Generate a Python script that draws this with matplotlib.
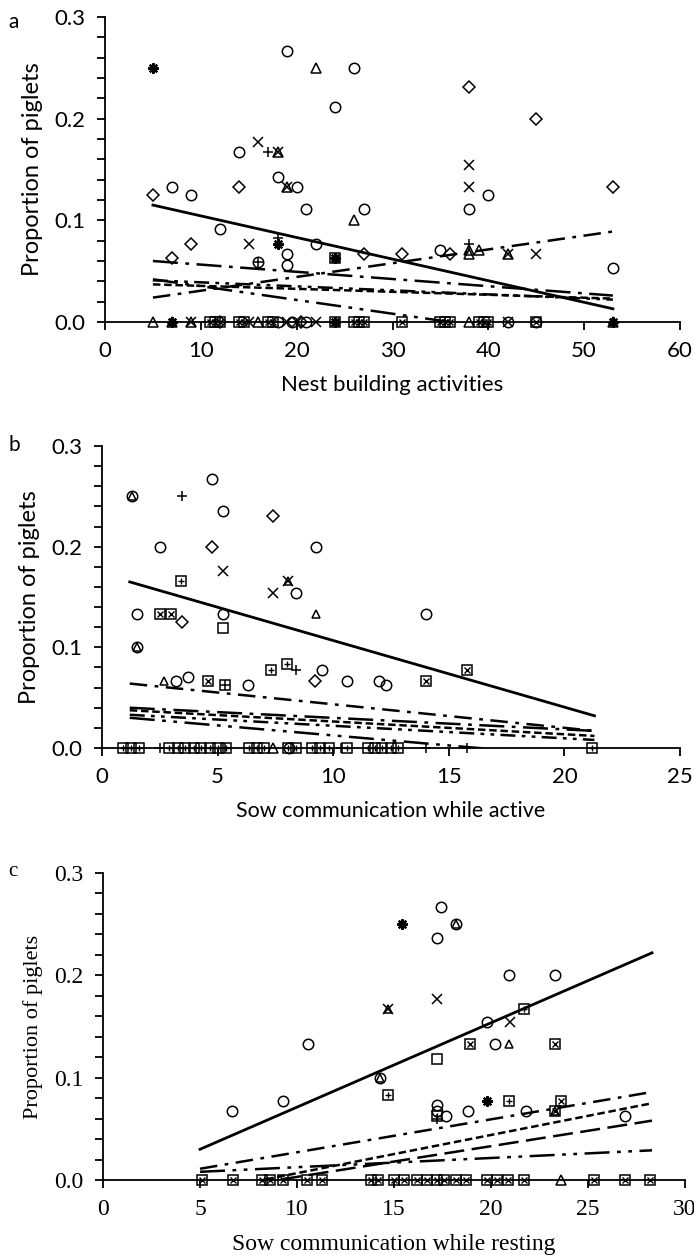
import matplotlib
matplotlib.use("Agg")
import matplotlib.pyplot as plt
from matplotlib.ticker import MultipleLocator

# ---------- panel a : nest building activities
A_CIRCLE_X = [7, 9, 12, 14, 18, 16, 19, 19, 19, 20, 21, 22, 24, 26, 27, 35, 38, 40, 53]
A_CIRCLE_Y = [0.133, 0.125, 0.091, 0.167, 0.143, 0.059, 0.067, 0.056, 0.267, 0.133,
              0.111, 0.077, 0.211, 0.25, 0.111, 0.071, 0.111, 0.125, 0.053]
A_DIAMOND_X = [5, 7, 9, 14, 27, 31, 36, 38, 45, 53]
A_DIAMOND_Y = [0.125, 0.063, 0.077, 0.133, 0.067, 0.067, 0.067, 0.231, 0.2, 0.133]
A_TRI_X = [18, 19, 22, 26, 38, 38, 39, 42]
A_TRI_Y = [0.167, 0.133, 0.25, 0.1, 0.067, 0.071, 0.071, 0.067]
A_CROSS_X = [15, 16, 18, 19, 38, 38, 42, 45]
A_CROSS_Y = [0.077, 0.177, 0.167, 0.133, 0.154, 0.133, 0.067, 0.067]
A_PLUS_X = [17, 18, 16, 38]
A_PLUS_Y = [0.167, 0.083, 0.059, 0.077]
A_STAR_X = [5, 18, 24]
A_STAR_Y = [0.25, 0.077, 0.063]
A_BOXX_X = [24]
A_BOXX_Y = [0.063]
# sows with no piglets (proportion 0)
A_ZERO_TRI = [5, 7, 9, 16, 38, 53]
A_ZERO_STAR = [7, 24, 53]
A_ZERO_CROSS = [9, 15, 19, 20, 22, 42]
A_ZERO_SQUARE = [11, 11.5, 12, 14, 14.5, 17, 17.5, 24, 26, 26.5, 27, 31, 35, 35.5, 36,
                 39, 39.5, 40, 45]
A_ZERO_CIRCLE = [18, 19.5, 21, 42, 45]
A_ZERO_DIAMOND = [12, 20.5]
# regression lines (x start, x end / y start, y end)
A_LINE_X = [5, 53]
A_LINES_Y = [(0.115, 0.013), (0.024, 0.089), (0.060, 0.026), (0.037, 0.023),
             (0.041, 0.022), (0.042, -0.023)]

# ---------- panel b : sow communication while active
B_CIRCLE_X = [4.76, 5.24, 2.5, 9.24, 8.37, 1.5, 5.24, 14.0, 3.2, 3.7, 6.3, 9.5, 10.6,
              12.0, 12.3, 1.3, 1.5]
B_CIRCLE_Y = [0.267, 0.235, 0.2, 0.2, 0.154, 0.133, 0.133, 0.133, 0.067, 0.071, 0.063,
              0.077, 0.067, 0.067, 0.063, 0.25, 0.1]
B_DIAMOND_X = [7.38, 4.76, 3.48, 9.2]
B_DIAMOND_Y = [0.23, 0.2, 0.125, 0.067]
B_TRI_X = [1.3, 8.06, 9.24, 2.7, 1.5]
B_TRI_Y = [0.25, 0.166, 0.133, 0.067, 0.1]
B_CROSS_X = [5.24, 7.38, 8.06]
B_CROSS_Y = [0.176, 0.154, 0.166]
B_PLUS_X = [3.48, 8.4, 5.3]
B_PLUS_Y = [0.25, 0.077, 0.063]
B_BOXP_X = [3.43, 7.3, 8.0]
B_BOXP_Y = [0.166, 0.077, 0.083]
B_BOXX_X = [2.5, 3.0, 4.6, 14.0, 15.8]
B_BOXX_Y = [0.133, 0.133, 0.067, 0.067, 0.077]
B_SQUARE_X = [5.24, 5.3]
B_SQUARE_Y = [0.119, 0.063]
B_ZERO_BOXP = [0.9, 1.25, 1.6, 2.9, 3.3, 3.6, 4.0, 4.3, 4.65, 5.0, 5.35, 6.35, 6.7, 7.0,
               8.05, 8.4, 9.1, 9.45, 9.8, 10.6, 11.5, 11.8, 12.1, 12.5, 12.8, 21.2]
B_ZERO_TRI = [7.4]
B_ZERO_CIRCLE = [8.1]
B_ZERO_PLUS = [2.5, 5.3, 10.35, 14.0, 15.8]
B_LINE_X = [1.2, 21.3]
B_LINES_Y = [(0.165, 0.032), (0.064, 0.017), (0.040, 0.017), (0.0375, 0.012),
             (0.033, 0.008), (0.030, -0.010)]

# ---------- panel c : sow communication while resting
C_CIRCLE_X = [6.66, 9.3, 10.55, 14.3, 17.4, 18.2, 17.2, 17.2, 17.2, 17.7, 18.8, 19.8,
              20.2, 20.95, 21.8, 23.3, 26.9]
C_CIRCLE_Y = [0.067, 0.077, 0.133, 0.1, 0.267, 0.25, 0.236, 0.073, 0.067, 0.0625, 0.067,
              0.154, 0.133, 0.2, 0.067, 0.2, 0.0625]
C_TRI_X = [14.3, 14.7, 18.2, 20.95, 23.3]
C_TRI_Y = [0.1, 0.167, 0.25, 0.133, 0.067]
C_CROSS_X = [17.2, 21.0, 14.7]
C_CROSS_Y = [0.177, 0.154, 0.167]
C_STAR_X = [15.4, 19.8]
C_STAR_Y = [0.25, 0.077]
C_BOXP_X = [14.7, 17.2, 20.95, 21.7]
C_BOXP_Y = [0.083, 0.0625, 0.077, 0.167]
C_BOXX_X = [18.9, 23.3, 23.6, 23.3]
C_BOXX_Y = [0.133, 0.133, 0.077, 0.067]
C_SQUARE_X = [17.2]
C_SQUARE_Y = [0.118]
C_PLUS_X = [17.2]
C_PLUS_Y = [0.06]
C_ZERO_BOXX = [5.1, 6.7, 8.2, 8.6, 9.3, 10.5, 11.3, 13.8, 14.2, 15.0, 15.5, 16.2, 16.7,
               17.2, 17.6, 18.2, 18.7, 19.8, 20.3, 20.9, 21.7, 25.3, 26.9, 28.2]
C_ZERO_TRI = [23.6]
C_LINE_X = [5, 28.3]
C_LINES_Y = [(0.030, 0.222), (0.011, 0.086), (-0.012, 0.075), (-0.012, 0.058),
             (0.008, 0.029)]

ESTILOS = ["-", (0, (7, 3, 1.5, 3)), (0, (10, 3, 1.5, 3)), (0, (3, 1.5)),
           (0, (6, 2.5, 1.5, 2.5, 1.5, 2.5)), (0, (10, 3, 1.5, 3, 1.5, 3))]
ESTILOS_C = ["-", (0, (7, 3, 1.5, 3)), (0, (3, 1.5)), (0, (8, 3)),
             (0, (10, 3, 1.5, 3, 1.5, 3))]


def pts(ax, xs, ys, marker, ms=7.5, mew=1.1):
    ax.plot(xs, ys, linestyle="none", marker=marker, ms=ms, mfc="none", mec="black",
            mew=mew, clip_on=False, zorder=3)


def caixa(ax, xs, ys, interno):
    pts(ax, xs, ys, "s", ms=7)
    pts(ax, xs, ys, interno, ms=5, mew=1.0)


def eixo(ax, xmax, xstep, fam, fs, fs_lab):
    ax.set_xlim(0, xmax)
    ax.set_ylim(0, 0.3)
    for s in ["top", "right"]:
        ax.spines[s].set_visible(False)
    for s in ["left", "bottom"]:
        ax.spines[s].set_linewidth(1.3)
    ax.yaxis.set_minor_locator(MultipleLocator(0.02))
    ax.tick_params(axis="both", which="both", direction="out", length=6, width=1.3,
                   labelsize=fs, pad=8)
    ax.set_yticks([0.0, 0.1, 0.2, 0.3])
    ax.set_yticklabels(["0.0", "0.1", "0.2", "0.3"], family=fam)
    ax.set_xticks(range(0, xmax + 1, xstep))
    ax.set_xticklabels([str(v) for v in range(0, xmax + 1, xstep)], family=fam)
    ax.set_ylabel("Proportion of piglets", family=fam, fontsize=fs_lab, labelpad=8)


fig = plt.figure(figsize=(6.94, 12.55), dpi=100)
SANS = ["Lato", "DejaVu Sans"]
SERIF = ["Liberation Serif", "DejaVu Serif"]

# ---- a
ax = fig.add_axes([105 / 694, 1 - 322 / 1255, 575 / 694, 305 / 1255])
eixo(ax, 60, 10, SANS, 16, 17)
ax.set_xlabel("Nest building activities", family=SANS, fontsize=16, labelpad=10)
for (y0, y1), ls in zip(A_LINES_Y, ESTILOS):
    ax.plot(A_LINE_X, [y0, y1], color="black", lw=1.8 if ls != "-" else 2.0, ls=ls)
pts(ax, A_CIRCLE_X, A_CIRCLE_Y, "o")
pts(ax, A_DIAMOND_X, A_DIAMOND_Y, "D", ms=6)
pts(ax, A_TRI_X, A_TRI_Y, "^")
pts(ax, A_CROSS_X, A_CROSS_Y, "x")
pts(ax, A_PLUS_X, A_PLUS_Y, "+")
pts(ax, A_STAR_X, A_STAR_Y, (8, 2, 0), mew=1.6)
caixa(ax, A_BOXX_X, A_BOXX_Y, "x")
pts(ax, A_ZERO_TRI, [0] * len(A_ZERO_TRI), "^")
pts(ax, A_ZERO_STAR, [0] * len(A_ZERO_STAR), (8, 2, 0), mew=1.6)
pts(ax, A_ZERO_CROSS, [0] * len(A_ZERO_CROSS), "x")
caixa(ax, A_ZERO_SQUARE, [0] * len(A_ZERO_SQUARE), "x")
pts(ax, A_ZERO_CIRCLE, [0] * len(A_ZERO_CIRCLE), "o")
pts(ax, A_ZERO_DIAMOND, [0] * len(A_ZERO_DIAMOND), "D", ms=6)
fig.text(8 / 694, 1 - 22 / 1255, "a", family=SANS, fontsize=15, va="center")

# ---- b
ax = fig.add_axes([102 / 694, 1 - 748 / 1255, 578 / 694, 302 / 1255])
eixo(ax, 25, 5, SANS, 16, 17)
ax.set_xlabel("Sow communication while active", family=SANS, fontsize=15.5, labelpad=10)
for (y0, y1), ls in zip(B_LINES_Y, ESTILOS):
    ax.plot(B_LINE_X, [y0, y1], color="black", lw=1.8 if ls != "-" else 2.0, ls=ls)
pts(ax, B_CIRCLE_X, B_CIRCLE_Y, "o")
pts(ax, B_DIAMOND_X, B_DIAMOND_Y, "D", ms=6)
pts(ax, B_TRI_X, B_TRI_Y, "^", ms=6)
pts(ax, B_CROSS_X, B_CROSS_Y, "x")
pts(ax, B_PLUS_X, B_PLUS_Y, "+")
caixa(ax, B_BOXP_X, B_BOXP_Y, "+")
caixa(ax, B_BOXX_X, B_BOXX_Y, "x")
pts(ax, B_SQUARE_X, B_SQUARE_Y, "s", ms=7)
caixa(ax, B_ZERO_BOXP, [0] * len(B_ZERO_BOXP), "+")
pts(ax, B_ZERO_TRI, [0] * len(B_ZERO_TRI), "^")
pts(ax, B_ZERO_CIRCLE, [0] * len(B_ZERO_CIRCLE), "o")
pts(ax, B_ZERO_PLUS, [0] * len(B_ZERO_PLUS), "+")
fig.text(8 / 694, 1 - 445 / 1255, "b", family=SANS, fontsize=15, va="center")

# ---- c
ax = fig.add_axes([103 / 694, 1 - 1180 / 1255, 582 / 694, 307 / 1255])
eixo(ax, 30, 5, SERIF, 17, 16)
ax.set_xlabel("Sow communication while resting", family=SERIF, fontsize=17, labelpad=10)
for (y0, y1), ls in zip(C_LINES_Y, ESTILOS_C):
    ax.plot(C_LINE_X, [y0, y1], color="black", lw=1.8 if ls != "-" else 2.0, ls=ls)
pts(ax, C_CIRCLE_X, C_CIRCLE_Y, "o")
pts(ax, C_TRI_X, C_TRI_Y, "^", ms=6)
pts(ax, C_CROSS_X, C_CROSS_Y, "x")
pts(ax, C_STAR_X, C_STAR_Y, (8, 2, 0), mew=1.6)
caixa(ax, C_BOXP_X, C_BOXP_Y, "+")
caixa(ax, C_BOXX_X, C_BOXX_Y, "x")
pts(ax, C_SQUARE_X, C_SQUARE_Y, "s", ms=7)
pts(ax, C_PLUS_X, C_PLUS_Y, "+")
caixa(ax, C_ZERO_BOXX, [0] * len(C_ZERO_BOXX), "x")
pts(ax, C_ZERO_TRI, [0] * len(C_ZERO_TRI), "^")
fig.text(8 / 694, 1 - 872 / 1255, "c", family=SERIF, fontsize=15, va="center")

fig.savefig("out.png", dpi=100)
